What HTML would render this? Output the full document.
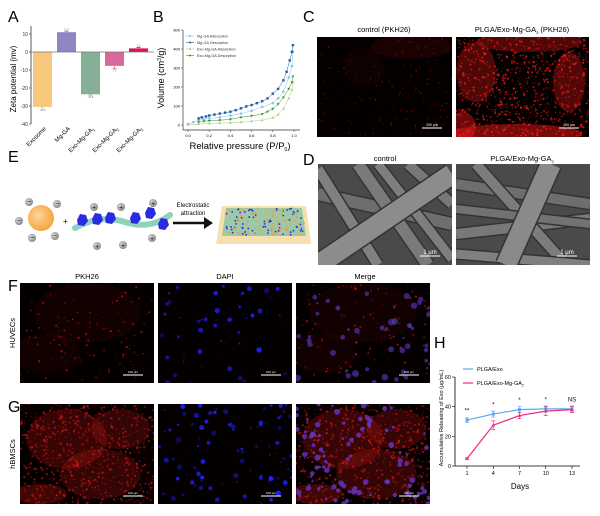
<!DOCTYPE html>
<html><head><meta charset="utf-8">
<style>
body{margin:0;background:#fff;width:600px;height:516px;overflow:hidden;font-family:"Liberation Sans",sans-serif;}
svg{display:block}
</style></head>
<body>
<svg id="fig" width="600" height="516" xmlns="http://www.w3.org/2000/svg" font-family="Liberation Sans, sans-serif">
<defs>
<radialGradient id="ball" cx="0.4" cy="0.4" r="0.6"><stop offset="0" stop-color="#ffd49a"/><stop offset="1" stop-color="#f5a640"/></radialGradient>
<radialGradient id="ion" cx="0.4" cy="0.4" r="0.6"><stop offset="0" stop-color="#e0e0e0"/><stop offset="1" stop-color="#888"/></radialGradient>
</defs>
<g id="panelA"></g>
<g id="panelB"></g>
<g id="panelC"></g>
<g id="panelD"></g>
<g id="panelE"></g>
<g id="panelFG"></g>
<g id="panelH"></g>
</svg>
<script>
// ---- Panel A data
const zetaCategories=["Exosome","Mg-GA","Exo-Mg-GA1","Exo-Mg-GA2","Exo-Mg-GA3"];
const zetaValues=[-30.5,11,-23.5,-7.7,2];
const zetaErrors=[0.6,0.5,0.5,1.6,0.5];
const zetaTicks=[10,0,-10,-20,-30,-40];
const zetaColors=["#f7c77b","#8e86c4","#86b096","#d8689a","#d8154f"];
// ---- Panel B data
const mgAdsX=[0,0.05,0.1,0.15,0.2,0.3,0.4,0.5,0.6,0.7,0.8,0.85,0.9,0.95,0.98,0.99];
const mgAdsY=[5,15,25,30,35,40,50,60,75,95,115,140,175,250,310,385];
const mgDesX=[0.1,0.13,0.17,0.2,0.25,0.3,0.35,0.4,0.45,0.5,0.55,0.6,0.65,0.7,0.75,0.8,0.85,0.9,0.93,0.96,0.98,0.99];
const mgDesY=[35,40,45,50,55,60,65,70,78,88,98,105,115,125,140,165,190,235,280,340,385,420];
const exoAdsX=[0,0.1,0.2,0.3,0.4,0.5,0.6,0.7,0.8,0.85,0.9,0.95,0.98,0.99];
const exoAdsY=[0,5,8,10,12,15,20,25,38,55,85,140,185,225];
const exoDesX=[0.1,0.15,0.2,0.3,0.4,0.5,0.6,0.7,0.75,0.8,0.85,0.9,0.95,0.98,0.99];
const exoDesY=[15,20,22,25,30,40,48,58,70,85,110,145,190,225,255];
const isoXTicks=[0,0.2,0.4,0.6,0.8,1.0];
const isoYTicks=[0,100,200,300,400,500];
// ---- Panel H data
const days=[1,4,7,10,13];
const exoRelease=[31,35,38,38.5,38.5];
const exoErr=[1.5,2,2,2,2];
const mgRelease=[5,27.5,34,37,38];
const mgErr=[0.5,3,2,3,2];
const hYTicks=[0,20,40,60];
const sigLabels=["**","*","*","*","NS"];

const NS="http://www.w3.org/2000/svg";
function mk(p,tag,a,txt){const e=document.createElementNS(NS,tag);for(const k in a)e.setAttribute(k,a[k]);if(txt!==undefined)e.textContent=txt;p.appendChild(e);return e;}
function label(p,x,y,t,name){const e=mk(p,'text',{x:x,y:y,'font-size':16,fill:'#000'},t);return e;}

// ===== Panel A
(function(){
const g=document.getElementById('panelA');
label(g,8,22,'A','panel-a-label');
const x0=31,x1=154,yTop=26;
const ya=v=>52-v*1.8;
mk(g,'line',{x1:x0,y1:yTop,x2:x0,y2:ya(-40),stroke:'#333','stroke-width':0.8});
zetaTicks.forEach(t=>{mk(g,'line',{x1:x0-2,y1:ya(t),x2:x0,y2:ya(t),stroke:'#333','stroke-width':0.6});
 const e=mk(g,'text',{x:x0-3,y:ya(t)+2,'font-size':5,'text-anchor':'end',fill:'#333'},t);});
const yt=mk(g,'text',{x:0,y:0,'font-size':8,'text-anchor':'middle',transform:`translate(16,${ya(-15)}) rotate(-90)`},'Zeta potential (mv)');

const bw=19,step=24;
zetaValues.forEach((v,i)=>{const bx=33+i*step;const top=Math.min(ya(v),ya(0)),h=Math.abs(ya(v)-ya(0));
 const r=mk(g,'rect',{x:bx,y:top,width:bw,height:h,fill:zetaColors[i]});
 const ye=ya(v+(v<0?-zetaErrors[i]:zetaErrors[i]));mk(g,'line',{x1:bx+bw/2,y1:ya(v),x2:bx+bw/2,y2:ye,stroke:zetaColors[i],'stroke-width':0.8});
 mk(g,'line',{x1:bx+bw/2-2,y1:ye,x2:bx+bw/2+2,y2:ye,stroke:zetaColors[i],'stroke-width':0.8});
 mk(g,'text',{x:bx+bw/2,y:ye+(v<0?3:-1),'font-size':2.5,'text-anchor':'middle',fill:'#666'},v.toFixed(1));
 const cl=mk(g,'text',{x:0,y:0,'font-size':6,'text-anchor':'end',transform:`translate(${bx+bw/2+4},${ya(-40)+5}) rotate(-45)`},zetaCategories[i].replace(/(\d)$/,''));
 if(/\d$/.test(zetaCategories[i]))mk(cl,'tspan',{'font-size':4,dy:1.5},zetaCategories[i].slice(-1));
 });
mk(g,'line',{x1:x0,y1:ya(0),x2:x1,y2:ya(0),stroke:'#777','stroke-width':0.8});
})();

// ===== Panel B
(function(){
const g=document.getElementById('panelB');
label(g,153,22,'B','panel-b-label');
const px=v=>188+v*106, py=v=>125-v*0.19;
mk(g,'line',{x1:183,y1:py(500),x2:183,y2:130,stroke:'#333','stroke-width':0.7});
mk(g,'line',{x1:183,y1:130,x2:300,y2:130,stroke:'#333','stroke-width':0.7});
isoYTicks.forEach(t=>{mk(g,'line',{x1:181,y1:py(t),x2:183,y2:py(t),stroke:'#333','stroke-width':0.5});
 const e=mk(g,'text',{x:180,y:py(t)+1.5,'font-size':4,'text-anchor':'end'},t);});
isoXTicks.forEach(t=>{mk(g,'line',{x1:px(t),y1:130,x2:px(t),y2:132,stroke:'#333','stroke-width':0.5});
 const e=mk(g,'text',{x:px(t),y:137,'font-size':4,'text-anchor':'middle'},t.toFixed(1));});
const xt=mk(g,'text',{x:240,y:149,'font-size':9.5,'text-anchor':'middle'},'Relative pressure (P/P');mk(xt,'tspan',{'font-size':5,dy:2},'0');mk(xt,'tspan',{dy:-2},')');

const yt=mk(g,'text',{x:0,y:0,'font-size':9,'text-anchor':'middle',transform:'translate(164,78) rotate(-90)'},'Volume (cm');mk(yt,'tspan',{'font-size':5,dy:-3},'3');mk(yt,'tspan',{dy:3},'/g)');

const series=[[mgAdsX,mgAdsY,'#8fc3e8','c','Mg-GA Adsorption'],[mgDesX,mgDesY,'#1f5fa8','s','Mg-GA Desorption'],[exoAdsX,exoAdsY,'#a6d47f','t','Exo-Mg-GA Adsorption'],[exoDesX,exoDesY,'#2e9a2e','v','Exo-Mg-GA Desorption']];
series.forEach((s,k)=>{const [xs,ys,c,m,n]=s;
 const pl=mk(g,'polyline',{points:xs.map((x,i)=>px(x)+','+py(ys[i])).join(' '),fill:'none',stroke:c,'stroke-width':0.5});
 
 xs.forEach((x,i)=>{const X=px(x),Y=py(ys[i]);let e;
  if(m==='t')e=mk(g,'polygon',{points:`${X},${Y-1.6} ${X-1.5},${Y+1} ${X+1.5},${Y+1}`,fill:c});
  else if(m==='v')e=mk(g,'polygon',{points:`${X},${Y+1.6} ${X-1.5},${Y-1} ${X+1.5},${Y-1}`,fill:c});
  else e=mk(g,'rect',{x:X-1.2,y:Y-1.2,width:2.4,height:2.4,fill:c,transform:m==='c'?`rotate(45 ${X} ${Y})`:''});
  });
 const ly=36+k*6.5;mk(g,'line',{x1:186,y1:ly,x2:194,y2:ly,stroke:c,'stroke-width':0.6});mk(g,'circle',{cx:190,cy:ly,r:1,fill:c});
 const lt=mk(g,'text',{x:197,y:ly+1.3,'font-size':3.8,fill:'#333'},n);});
})();

// ===== micrograph helpers (deterministic PRNG for texture)
let seed=7;function rnd(){seed=(seed*16807)%2147483647;return seed/2147483647;}
function fluo(g,x,y,w,h,color,n,size,name,bgBlobs,maxOp){
 const sg=mk(g,'svg',{x:x,y:y,width:w,height:h,viewBox:`0 0 ${w} ${h}`});
 
 mk(sg,'rect',{width:w,height:h,fill:'#040000'});
 (bgBlobs||[]).forEach(b=>mk(sg,'ellipse',{cx:b[0]*w,cy:b[1]*h,rx:b[2]*w,ry:b[3]*h,fill:color,opacity:b[4]}));
 const mo=maxOp||1;
 for(let i=0;i<n;i++)mk(sg,'circle',{cx:rnd()*w,cy:rnd()*h,r:0.3+rnd()*size,fill:color,opacity:(0.3+rnd()*0.7)*mo});
 return sg;}
function scale(g,x,y,t,fs){mk(g,'line',{x1:x-10,y1:y,x2:x+10,y2:y,stroke:'#fff','stroke-width':1});mk(g,'text',{x:x,y:y-2,'font-size':fs||3.5,fill:'#fff','text-anchor':'middle'},t);}

// ===== Panel C
(function(){
const g=document.getElementById('panelC');
label(g,303,22,'C','panel-c-label');
let t=mk(g,'text',{x:384,y:32,'font-size':7.5,'text-anchor':'middle'},'control (PKH26)');
t=mk(g,'text',{x:522,y:32,'font-size':7.5,'text-anchor':'middle'},'PLGA/Exo-Mg-GA');mk(t,'tspan',{'font-size':4,dy:2},'3');mk(t,'tspan',{dy:-2},' (PKH26)');
fluo(g,317,37,135,100,'#c01010',260,0.6,'c-control-image',[[0.7,0.1,0.3,0.12,0.12],[0.35,0.3,0.15,0.2,0.05]],0.6);
fluo(g,456,37,133,100,'#ff1a1a',1100,0.9,'c-treated-image',[[0.15,0.35,0.15,0.3,0.3],[0.55,0.05,0.4,0.1,0.3],[0.85,0.45,0.12,0.3,0.3],[0.45,0.97,0.5,0.1,0.45],[0.05,0.9,0.1,0.15,0.4]],0.85);
scale(g,432,128,'200 μm');scale(g,569,128,'200 μm');
})();

// ===== Panel D
(function(){
const g=document.getElementById('panelD');
label(g,303,165,'D','panel-d-label');
let t=mk(g,'text',{x:385,y:161,'font-size':7.5,'text-anchor':'middle'},'control');
t=mk(g,'text',{x:522,y:161,'font-size':7.5,'text-anchor':'middle'},'PLGA/Exo-Mg-GA');mk(t,'tspan',{'font-size':4,dy:2},'2');
function sem(x,y,fibers,name){const sg=mk(g,'svg',{x:x,y:y,width:134,height:101,viewBox:'0 0 134 101'});
 
 mk(sg,'rect',{width:134,height:101,fill:'#4a4a4a'});
 fibers.forEach(f=>{mk(sg,'line',{x1:f[0],y1:f[1],x2:f[2],y2:f[3],stroke:'#333','stroke-width':f[4]+3});mk(sg,'line',{x1:f[0],y1:f[1],x2:f[2],y2:f[3],stroke:f[5],'stroke-width':f[4]});});
 return sg;}
sem(318,164,[[0,30,134,60,12,'#6e6e6e'],[40,0,110,101,12,'#7a7a7a'],[0,5,60,101,10,'#808080'],[90,0,134,40,10,'#787878'],[60,0,134,95,9,'#7e7e7e'],[0,101,134,10,20,'#8c8c8c']],'d-control-image');
sem(456,164,[[0,20,134,40,10,'#6e6e6e'],[0,70,134,55,10,'#787878'],[20,0,110,101,10,'#7c7c7c'],[0,90,134,101,9,'#808080'],[0,45,134,60,8,'#727272'],[95,0,50,101,20,'#8a8a8a']],'d-treated-image');
scale(g,430,256,'1 μm',6);scale(g,567,256,'1 μm',6);
})();

// ===== Panel E
(function(){
const g=document.getElementById('panelE');
label(g,8,162,'E','panel-e-label');
mk(g,'circle',{cx:41,cy:218,r:13,fill:'url(#ball)'});
[[29,202],[57,204],[19,221],[32,238],[55,236]].forEach(p=>{mk(g,'circle',{cx:p[0],cy:p[1],r:4,fill:'url(#ion)'});mk(g,'text',{x:p[0],y:p[1]+2,'font-size':7,'text-anchor':'middle',fill:'#000'},'−');});
mk(g,'text',{x:63,y:224,'font-size':8},'+');
mk(g,'path',{d:'M75 228 Q100 214 125 222 T170 215',stroke:'#8fd3b8','stroke-width':6,fill:'none','stroke-linecap':'round'});
[[82,220],[97,219],[110,218],[135,218],[150,213],[163,224]].forEach(p=>mk(g,'polygon',{points:`${p[0]-5},${p[1]} ${p[0]-2},${p[1]-6} ${p[0]+4},${p[1]-5} ${p[0]+6},${p[1]+1} ${p[0]+2},${p[1]+6} ${p[0]-4},${p[1]+5}`,fill:'#2a2ae0'}));
[[94,207],[121,207],[153,203],[97,246],[123,245],[152,238]].forEach(p=>{mk(g,'circle',{cx:p[0],cy:p[1],r:4,fill:'url(#ion)'});mk(g,'text',{x:p[0],y:p[1]+2.5,'font-size':7,'text-anchor':'middle'},'+');});
let t=mk(g,'text',{x:193,y:207,'font-size':6,'text-anchor':'middle'},'Electrostatic');
mk(g,'text',{x:193,y:215,'font-size':6,'text-anchor':'middle'},'attraction');
mk(g,'line',{x1:173,y1:223,x2:205,y2:223,stroke:'#111','stroke-width':2.5});mk(g,'polygon',{points:'204,217 213,223 204,229',fill:'#111'});
mk(g,'polygon',{points:'222,206 306,206 311,244 216,244',fill:'#f7dfae'});
mk(g,'polygon',{points:'226,208 302,208 306,236 222,236',fill:'#9cc9a8'});
for(let i=0;i<160;i++){mk(g,'circle',{cx:226+rnd()*78,cy:208+rnd()*28,r:0.9,fill:rnd()<0.5?'#f59a3c':'#2c2cd8'});}
})();

// ===== Panels F,G
(function(){
const g=document.getElementById('panelFG');
label(g,8,291,'F','panel-f-label');label(g,8,412,'G','panel-g-label');
[['PKH26',87],['DAPI',225],['Merge',365]].forEach(c=>{const e=mk(g,'text',{x:c[1],y:279,'font-size':7.5,'text-anchor':'middle'},c[0]);});
let e=mk(g,'text',{x:0,y:0,'font-size':7.5,'text-anchor':'middle',transform:'translate(15,333) rotate(-90)'},'HUVECs');
e=mk(g,'text',{x:0,y:0,'font-size':7.5,'text-anchor':'middle',transform:'translate(15,454) rotate(-90)'},'hBMSCs');
const xs=[20,158,296];
const fb=[[0.5,0.3,0.4,0.3,0.06],[0.2,0.7,0.25,0.2,0.06]];
fluo(g,xs[0],283,134,100,'#e81010',160,0.9,'f-pkh26-image',fb,0.8);
fluo(g,xs[1],283,134,100,'#2020ff',55,2.4,'f-dapi-image');
const mf=fluo(g,xs[2],283,134,100,'#e81010',150,0.9,'f-merge-image',fb,0.8);
for(let i=0;i<50;i++)mk(mf,'circle',{cx:rnd()*134,cy:rnd()*100,r:1+rnd()*2.5,fill:'#5a3cc8',opacity:0.6});
const bl=[[0.35,0.35,0.3,0.3,0.22],[0.75,0.25,0.22,0.2,0.2],[0.6,0.7,0.3,0.25,0.2],[0.15,0.9,0.2,0.1,0.25]];
fluo(g,xs[0],404,134,100,'#ee1818',900,1.0,'g-pkh26-image',bl,0.7);
fluo(g,xs[1],404,134,100,'#2020ff',110,2.4,'g-dapi-image');
const mg=fluo(g,xs[2],404,134,100,'#ee1818',850,1.0,'g-merge-image',bl,0.7);
for(let i=0;i<90;i++)mk(mg,'circle',{cx:rnd()*134,cy:rnd()*100,r:1+rnd()*2,fill:'#6a38d0',opacity:0.75});
xs.forEach(x=>{scale(g,x+113,375,'100 μm',3);scale(g,x+113,496,'100 μm',3);});
})();

// ===== Panel H
(function(){
const g=document.getElementById('panelH');
label(g,434,348,'H','panel-h-label');
const hx=d=>467+(d-1)*(105/12), hy=v=>466-v*1.483;
mk(g,'line',{x1:455,y1:hy(60),x2:455,y2:466,stroke:'#000','stroke-width':0.8});
mk(g,'line',{x1:455,y1:466,x2:580,y2:466,stroke:'#000','stroke-width':0.8});
hYTicks.forEach(t=>{mk(g,'line',{x1:452,y1:hy(t),x2:455,y2:hy(t),stroke:'#000','stroke-width':0.6});
 const e=mk(g,'text',{x:451,y:hy(t)+2,'font-size':5.5,'text-anchor':'end'},t);});
days.forEach(d=>{mk(g,'line',{x1:hx(d),y1:466,x2:hx(d),y2:469,stroke:'#000','stroke-width':0.6});
 const e=mk(g,'text',{x:hx(d),y:475,'font-size':5.5,'text-anchor':'middle'},d);});
let t=mk(g,'text',{x:520,y:489,'font-size':8,'text-anchor':'middle'},'Days');
t=mk(g,'text',{x:0,y:0,'font-size':5.5,'text-anchor':'middle',transform:'translate(443,418) rotate(-90)'},'Accumulative Releasing of Exo (μg/mL)');
[[exoRelease,exoErr,'#5aa8f0','s'],[mgRelease,mgErr,'#ee2a84','t']].forEach((s,k)=>{const [v,er,c,m]=s;
 const pl=mk(g,'polyline',{points:days.map((d,i)=>hx(d)+','+hy(v[i])).join(' '),fill:'none',stroke:c,'stroke-width':1.2});
 
 days.forEach((d,i)=>{const X=hx(d),Y=hy(v[i]);
  mk(g,'line',{x1:X,y1:hy(v[i]-er[i]),x2:X,y2:hy(v[i]+er[i]),stroke:c,'stroke-width':0.7});
  mk(g,'line',{x1:X-2,y1:hy(v[i]-er[i]),x2:X+2,y2:hy(v[i]-er[i]),stroke:c,'stroke-width':0.7});
  mk(g,'line',{x1:X-2,y1:hy(v[i]+er[i]),x2:X+2,y2:hy(v[i]+er[i]),stroke:c,'stroke-width':0.7});
  const p=m==='s'?mk(g,'rect',{x:X-1.5,y:Y-1.5,width:3,height:3,fill:c}):mk(g,'polygon',{points:`${X},${Y-2} ${X-1.8},${Y+1.3} ${X+1.8},${Y+1.3}`,fill:c});
  });});
days.forEach((d,i)=>{const e=mk(g,'text',{x:hx(d),y:hy(Math.max(exoRelease[i],mgRelease[i])+5),'font-size':6,'text-anchor':'middle'},sigLabels[i]);});
mk(g,'line',{x1:463,y1:369,x2:473,y2:369,stroke:'#5aa8f0','stroke-width':1.2});
t=mk(g,'text',{x:477,y:371,'font-size':5.5},'PLGA/Exo');
mk(g,'line',{x1:463,y1:383,x2:473,y2:383,stroke:'#ee2a84','stroke-width':1.2});
t=mk(g,'text',{x:477,y:385,'font-size':5.5},'PLGA/Exo-Mg-GA');mk(t,'tspan',{'font-size':3.5,dy:1.5},'2');
})();
</script>
</body></html>
